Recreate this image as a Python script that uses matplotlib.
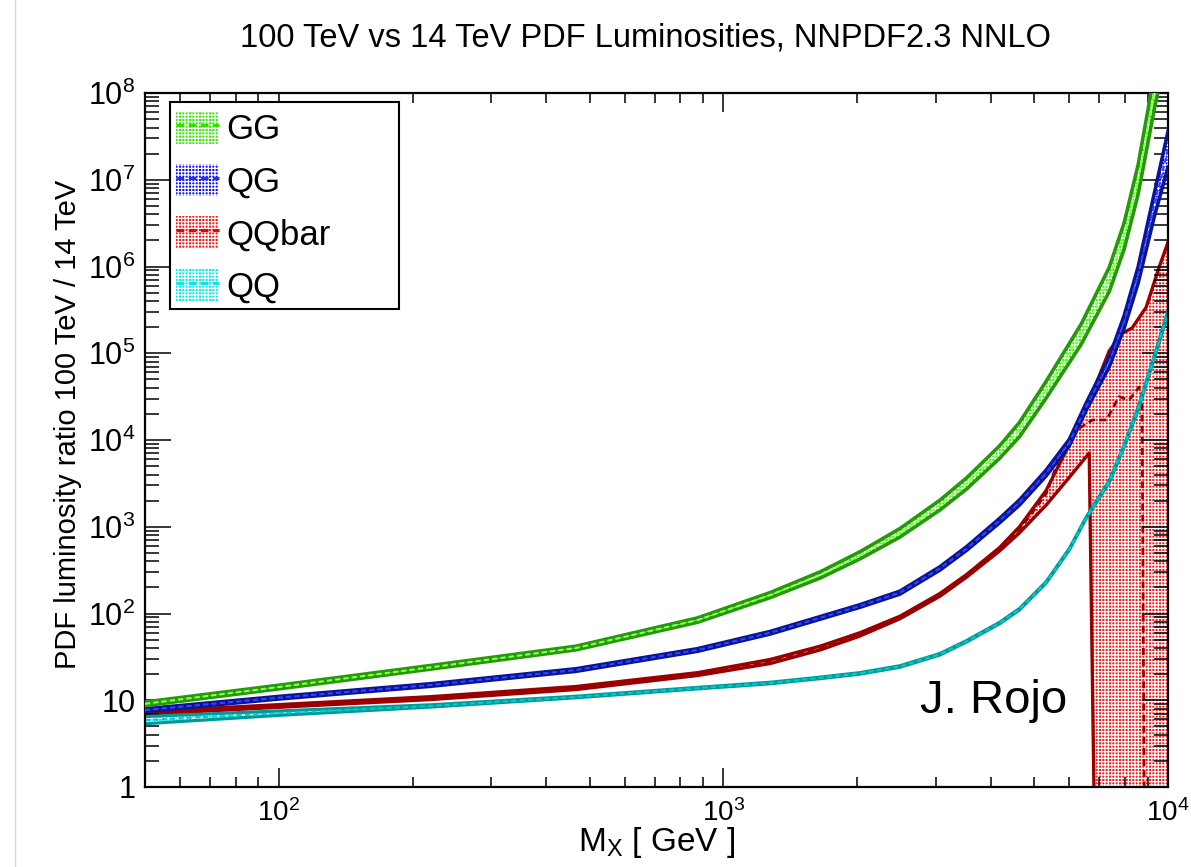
import matplotlib
matplotlib.use("Agg")
import matplotlib.pyplot as plt
import numpy as np
from matplotlib.lines import Line2D
from matplotlib.patches import Patch, Rectangle
from matplotlib.ticker import LogLocator, FuncFormatter, NullFormatter

plt.rcParams["font.family"] = ["Liberation Sans", "DejaVu Sans"]
plt.rcParams["mathtext.fontset"] = "custom"
plt.rcParams["mathtext.rm"] = "Liberation Sans"
plt.rcParams["mathtext.default"] = "regular"
plt.rcParams["hatch.linewidth"] = 0.9

# --- data (M_X in GeV, ratio 100 TeV / 14 TeV) ---
gg_m = [50, 100, 220, 466, 875, 1274, 1650, 2028, 2495, 3069, 3525, 4179,
        4634, 5321, 6380, 7376, 7967, 8565, 9305, 10000]
gg_c = [9.1, 14.2, 24, 40, 84, 163, 278, 468, 851, 1778, 3162, 7244,
        13183, 38019, 1.66e5, 7.08e5, 2.24e6, 1.0e7, 1.0e8, 6.3e8]
gg_err = [0.05, 0.05, 0.05, 0.05, 0.06, 0.07, 0.085, 0.1, 0.12, 0.14, 0.16,
          0.18, 0.21, 0.25, 0.31, 0.38, 0.42, 0.48, 0.58, 0.66]

qg_m = [50, 100, 220, 466, 875, 1274, 1650, 2028, 2495, 3069, 3525, 4179,
        4634, 5321, 5998, 6540, 7376, 7967, 8565, 9305, 10000]
qg_c = [7.7, 10.7, 15, 22.3, 38, 60, 89, 122, 174, 331, 562, 1175,
        1905, 4169, 9333, 23990, 79430, 2.29e5, 7.94e5, 5.0e6, 2.24e7]
qg_err = [0.035, 0.035, 0.035, 0.035, 0.035, 0.035, 0.035, 0.035, 0.04, 0.045,
          0.05, 0.06, 0.07, 0.08, 0.09, 0.1, 0.14, 0.18, 0.24, 0.36, 0.6]

qq_m = [50, 100, 220, 466, 875, 1274, 1650, 2028, 2495, 3069, 3525, 4179,
        4634, 5321, 5998, 6540, 7376, 7967, 8565, 9305, 10000]
qq_c = [5.9, 7.1, 8.6, 10.9, 13.8, 15.8, 18.1, 20.4, 24.5, 33.9, 47.9, 77.6,
        112, 229, 550, 1259, 3311, 8511, 22900, 89100, 2.95e5]
qq_err = [0.1, 0.06, 0.03, 0.02, 0.02, 0.02, 0.02, 0.02, 0.02, 0.02, 0.02,
          0.02, 0.02, 0.02, 0.02, 0.02, 0.03, 0.03, 0.04, 0.04, 0.05]

# QQbar band edges and central value (central value goes negative near 9 TeV)
qqbar_lo_m = [50, 100, 220, 466, 875, 1274, 1650, 2028, 2495, 3069, 3525,
              4179, 4634, 5321, 6000, 6650, 6900, 10000]
qqbar_lo = [6.9, 8.3, 10.2, 13.3, 19.3, 26.5, 38, 55, 87, 158, 263,
            525, 851, 1778, 3715, 7080, 0.01, 0.01]
qqbar_up_m = [50, 100, 220, 466, 875, 1274, 1650, 2028, 2495, 3069, 3525,
              4179, 4634, 5321, 6000, 6650, 7380, 7890, 8300, 8930, 9550, 10000]
qqbar_up = [7.4, 8.9, 11.0, 14.4, 20.8, 29.5, 42, 60, 93, 170, 282,
            575, 1000, 2630, 8900, 28200, 1.07e5, 1.7e5, 1.95e5, 3.39e5, 9.8e5, 1.9e6]
qqbar_c_m = [50, 100, 220, 466, 875, 1274, 1650, 2028, 2495, 3069, 3525,
             4179, 4634, 5321, 5780, 6220, 6760, 7270, 7760, 8180, 8610, 8740,
             8880, 10000]
qqbar_c = [7.1, 8.6, 10.6, 13.8, 20, 28, 40, 57.5, 90, 164, 272,
           550, 923, 2400, 7670, 13000, 17000, 17000, 31600, 29000, 40700, 35000,
           0.01, 0.01]

labels = ["GG", "QG", "QQbar", "QQ"]
HATCH = "+++++"
DASH = (0, (2.5, 1.5))

fig = plt.figure(figsize=(11.91, 8.67), dpi=100)
ax = fig.add_axes([145 / 1191, 80 / 867, 1023 / 1191, 694 / 867])
ax.set_xscale("log")
ax.set_yscale("log")


def draw_band(m, c, err, edge, fill, dash, z, lw):
    m = np.array(m)
    c = np.array(c)
    e = 1 + np.array(err)
    ax.fill_between(m, c / e, c * e, facecolor=fill, edgecolor="white",
                    hatch=HATCH, lw=0, zorder=z)
    ax.plot(m, c / e, color=edge, lw=lw, zorder=z + 0.1)
    ax.plot(m, c * e, color=edge, lw=lw, zorder=z + 0.1)
    ax.plot(m, c, color=dash, lw=1.5, ls=DASH, zorder=z + 0.2)


# QQbar: drawn first, irregular band
ax.fill(np.concatenate([qqbar_up_m, qqbar_lo_m[::-1]]),
        np.concatenate([qqbar_up, qqbar_lo[::-1]]),
        facecolor="#ff1a1a", edgecolor="white", hatch=HATCH, lw=0, zorder=1)
ax.plot(qqbar_lo_m, qqbar_lo, color="#990000", lw=2.4, zorder=1.1)
ax.plot(qqbar_up_m, qqbar_up, color="#990000", lw=2.4, zorder=1.1)
ax.plot(qqbar_c_m, qqbar_c, color="#990000", lw=2.0, ls=DASH, zorder=1.2)

draw_band(qq_m, qq_c, qq_err, "#009999", "#00f0f0", "#00cccc", 2, 2.3)
draw_band(qg_m, qg_c, qg_err, "#0a1496", "#1010ff", "#3344ff", 3, 2.6)
draw_band(gg_m, gg_c, gg_err, "#26990a", "#33ee00", "#88ff55", 4, 2.6)

ax.set_xlim(50, 1e4)
ax.set_ylim(1, 1e8)


def log_fmt(v, pos):
    n = int(round(np.log10(v)))
    if n == 0:
        return "1"
    if n == 1:
        return "10"
    return "$10^{%d}$" % n


ax.xaxis.set_major_locator(LogLocator(base=10, numticks=20))
ax.xaxis.set_minor_locator(LogLocator(base=10, subs=np.arange(2, 10), numticks=50))
ax.yaxis.set_major_locator(LogLocator(base=10, numticks=20))
ax.yaxis.set_minor_locator(LogLocator(base=10, subs=np.arange(2, 10), numticks=50))
ax.xaxis.set_major_formatter(FuncFormatter(log_fmt))
ax.yaxis.set_major_formatter(FuncFormatter(log_fmt))
ax.xaxis.set_minor_formatter(NullFormatter())
ax.yaxis.set_minor_formatter(NullFormatter())

ax.tick_params(axis="both", which="both", direction="in", top=True, right=True,
               width=1.1, colors="black")
ax.tick_params(axis="y", which="major", length=19, labelsize=22, pad=7)
ax.tick_params(axis="y", which="minor", length=10)
ax.tick_params(axis="x", which="major", length=14, labelsize=20, pad=9)
ax.tick_params(axis="x", which="minor", length=7)
for s in ax.spines.values():
    s.set_linewidth(1.6)

ax.set_xlabel("M$_X$ [ GeV ]", fontsize=24, labelpad=-2)
fig.text(0.057, 0.51, "PDF luminosity ratio 100 TeV / 14 TeV", rotation=90,
         fontsize=21, ha="center", va="center")
fig.text(645 / 1191, 0.956, "100 TeV vs 14 TeV PDF Luminosities, NNPDF2.3 NNLO",
         fontsize=23.5, ha="center", va="center")

ax.text(2770, 7.1, "J. Rojo", fontsize=34, ha="left", va="baseline", zorder=6)

# legend box (fixed size, ROOT style)
ax.add_patch(Rectangle((0.0244, 0.6888), 0.2239, 0.2982, transform=ax.transAxes,
                       facecolor="white", edgecolor="black", lw=1.5, zorder=8))
fills = ["#33ee00", "#1010ff", "#ff1a1a", "#00f0f0"]
dashes = ["#33dd00", "#1a33ff", "#ee0000", "#22dddd"]
handles = [(Patch(facecolor=f, edgecolor="white", hatch=HATCH, lw=0),
            Line2D([], [], color=d, lw=2.2, ls=DASH)) for f, d in zip(fills, dashes)]
leg = ax.legend(handles, labels, loc="upper left", bbox_to_anchor=(0.03, 0.974),
                fontsize=25, frameon=False, handlelength=1.25, handleheight=1.07,
                labelspacing=0.5, handletextpad=0.2, borderpad=0, borderaxespad=0)
leg.set_zorder(9)

fig.add_artist(Line2D([15 / 1191, 15 / 1191], [0, 1], color="#d8d8d8", lw=1))

fig.savefig("out.png", dpi=100)
